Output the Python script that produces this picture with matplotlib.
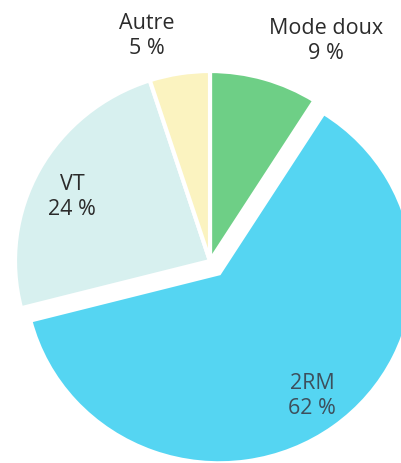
import matplotlib
matplotlib.use("Agg")
import matplotlib.pyplot as plt

categories = ["Mode doux", "2RM", "VT", "Autre"]
values = [9, 62, 24, 5]
labels = ["Mode doux\n9 %", "2RM\n62 %", "VT\n24 %", "Autre\n5 %"]
colors = ["#6ecf86", "#55d5f2", "#d7f0ef", "#fbf3c0"]
explode = [0, 0.08, 0, 0]

W, H = 401, 464
fig = plt.figure(figsize=(W / 100, H / 100), dpi=100)
ax = fig.add_axes([0, 0, 1, 1])
ax.pie(values, colors=colors, explode=explode, startangle=90, counterclock=False,
       wedgeprops=dict(edgecolor="white", linewidth=3))
# pixel scale: centre (210, 262), rx 195 px, ry 190 px
cx, cy, rx, ry = 210, 262, 195, 190
ax.set_aspect("auto")
ax.set_xlim(-cx / rx, (W - cx) / rx)
ax.set_ylim(-(H - cy) / ry, cy / ry)
ax.axis("off")

font = ["Open Sans", "DejaVu Sans"]
pos = {"Mode doux": (326, 41), "2RM": (312, 396), "VT": (72, 197), "Autre": (147, 36)}
tcol = {"Mode doux": "#2b2b2b", "2RM": "#3d4f5c", "VT": "#2b2b2b", "Autre": "#2b2b2b"}
for cat, lab in zip(categories, labels):
    px, py = pos[cat]
    fig.text(px / W, 1 - py / H, lab, ha="center", va="center", multialignment="center",
             fontsize=15.5, family=font, color=tcol[cat], linespacing=1.2)

fig.savefig("out.png", dpi=100, facecolor="white")
